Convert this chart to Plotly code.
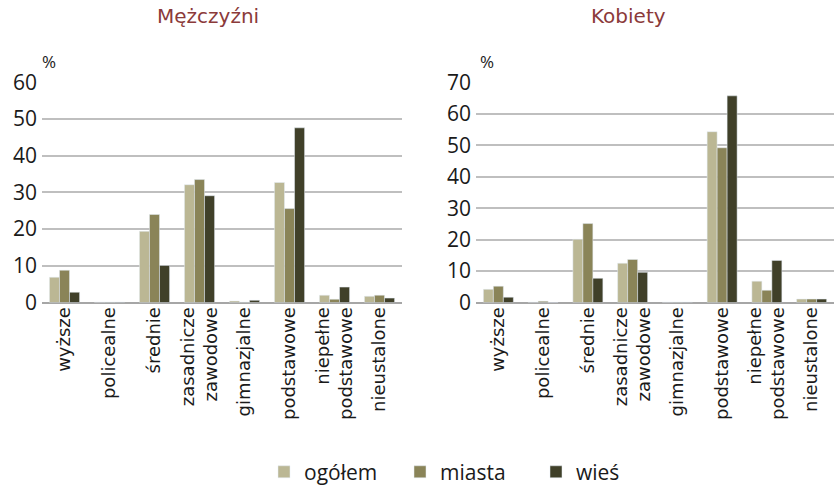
import plotly.graph_objects as go

categories = ["wyższe", "policealne", "średnie", "zasadnicze<br>zawodowe", "gimnazjalne",
              "podstawowe", "niepełne<br>podstawowe", "nieustalone"]
series_names = ["ogółem", "miasta", "wieś"]
colors = ["#BBB794", "#8A8458", "#404029"]

men_ogolem = [6.9, 0.1, 19.4, 32.1, 0.4, 32.7, 2.0, 1.7]
men_miasta = [8.8, 0.1, 24.0, 33.5, 0.1, 25.6, 0.9, 2.0]
men_wies = [2.8, 0.1, 10.1, 29.1, 0.6, 47.6, 4.2, 1.2]

women_ogolem = [4.2, 0.1, 20.1, 12.5, 0.1, 54.3, 6.8, 1.1]
women_miasta = [5.2, 0.4, 25.1, 13.7, 0.1, 49.2, 3.9, 1.1]
women_wies = [1.7, 0.0, 7.7, 9.6, 0.1, 65.7, 13.4, 1.1]

men = [men_ogolem, men_miasta, men_wies]
women = [women_ogolem, women_miasta, women_wies]

fig = go.Figure()
for i, name in enumerate(series_names):
    fig.add_trace(go.Bar(x=categories, y=men[i], name=name, marker_color=colors[i],
                         xaxis="x", yaxis="y", legendgroup=name))
for i, name in enumerate(series_names):
    fig.add_trace(go.Bar(x=categories, y=women[i], name=name, marker_color=colors[i],
                         xaxis="x2", yaxis="y2", legendgroup=name, showlegend=False))

H = 493.0
W = 835.0
ytop = 1 - 83 / H
ybot = 1 - 305 / H

tickfont_x = dict(family="DejaVu Sans", size=18, color="#1a1a1a")
tickfont_y = dict(family="Open Sans", size=21, color="#1a1a1a")
common_x = dict(tickangle=-90, tickfont=tickfont_x, showgrid=False, showline=False,
                ticks="", automargin=False)
common_y = dict(tickfont=tickfont_y, showgrid=True, gridcolor="#BFBFBF", gridwidth=1.5,
                zeroline=True, zerolinecolor="#A6A6A6", zerolinewidth=1.5,
                showline=False, ticks="", ticklabelstandoff=4, automargin=False)

fig.update_layout(
    width=835, height=493,
    margin=dict(l=0, r=0, t=0, b=0),
    paper_bgcolor="white", plot_bgcolor="white",
    barmode="group", bargap=0.33, bargroupgap=0,
    xaxis=dict(domain=[42 / W, 402 / W], anchor="y", **common_x),
    yaxis=dict(domain=[ybot, ytop], range=[0, 60], dtick=10, anchor="x", **common_y),
    xaxis2=dict(domain=[476 / W, 834 / W], anchor="y2", **common_x),
    yaxis2=dict(domain=[ybot, ytop], range=[0, 70], dtick=10, anchor="x2", **common_y),
    legend=dict(orientation="h", x=264 / W, xanchor="left", y=1 - 476 / H, yanchor="middle",
                font=dict(family="Open Sans", size=21, color="#1a1a1a"),
                itemwidth=30, entrywidth=91, traceorder="normal"),
    showlegend=True,
    annotations=[
        dict(text="Mężczyźni", x=208 / W, y=1 - 16 / H, xref="paper", yref="paper",
             xanchor="center", yanchor="middle",
             showarrow=False, font=dict(family="DejaVu Sans", size=20, color="#8B3A3A")),
        dict(text="Kobiety", x=628 / W, y=1 - 16 / H, xref="paper", yref="paper",
             xanchor="center", yanchor="middle",
             showarrow=False, font=dict(family="DejaVu Sans", size=20, color="#8B3A3A")),
        dict(text="%", x=49 / W, y=1 - 62 / H, xref="paper", yref="paper",
             xanchor="center", yanchor="middle",
             showarrow=False, font=dict(family="Open Sans", size=17, color="#1a1a1a")),
        dict(text="%", x=487 / W, y=1 - 62 / H, xref="paper", yref="paper",
             xanchor="center", yanchor="middle",
             showarrow=False, font=dict(family="Open Sans", size=17, color="#1a1a1a")),
    ],
)

fig.write_html("out.html", config={"displayModeBar": False},
               post_script="document.body.style.margin='0';")
